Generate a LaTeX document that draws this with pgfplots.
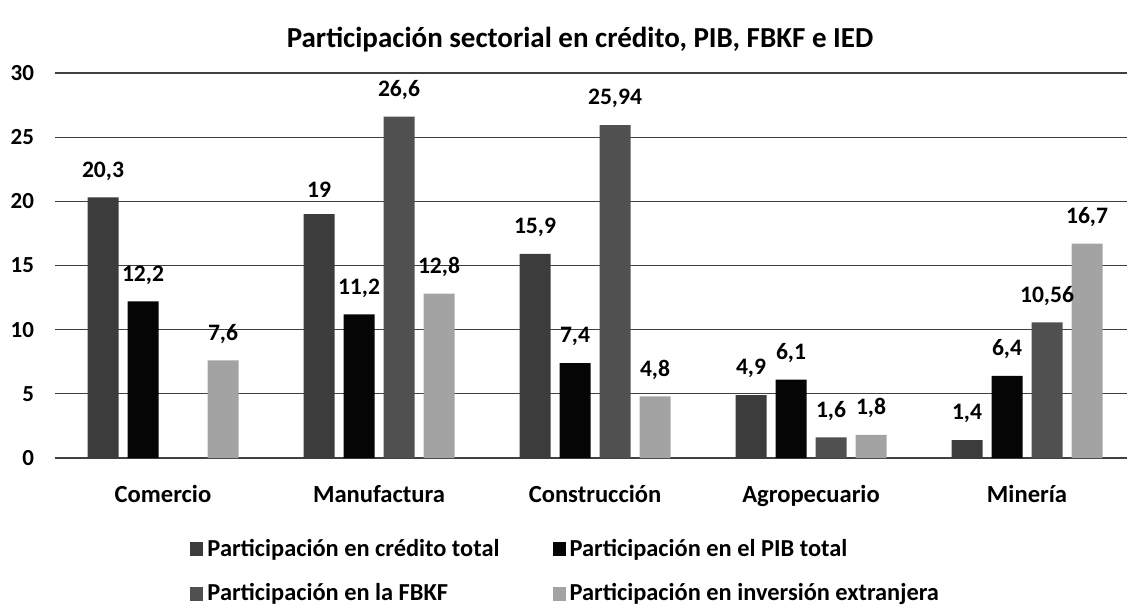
\documentclass[border=0pt]{standalone}
\usepackage{fontspec}
\setmainfont{Carlito}
\usepackage{pgfplots}
\pgfplotsset{compat=1.18}
\definecolor{cCred}{HTML}{3C3C3C}
\definecolor{cPIB}{HTML}{050505}
\definecolor{cFBKF}{HTML}{505050}
\definecolor{cIED}{HTML}{A3A3A3}
\begin{document}
\begin{tikzpicture}
\path[use as bounding box] (0,0) rectangle (563.5pt,303pt);
\node[font=\bfseries\fontsize{14.5}{16}\selectfont] at (290pt,283pt) {Participación sectorial en crédito, PIB, FBKF e IED};
\begin{axis}[
  at={(27.5pt,74pt)}, anchor=south west,
  scale only axis, width=536pt, height=192.5pt,
  ymin=0, ymax=30, ytick={0,5,...,30},
  xmin=-0.5, xmax=4.463,
  xtick={0,1,2,3,4},
  xticklabels={Comercio,Manufactura,Construcción,Agropecuario,Minería},
  axis line style={draw=none},
  major tick length=0pt,
  ymajorgrids, grid style={black!75, line width=0.6pt},
  ybar=4.5pt, bar width=15.5pt,
  /pgf/number format/assume math mode=true,
  tick label style={font=\bfseries\fontsize{11.5}{13}\selectfont},
  xticklabel style={font=\bfseries\fontsize{12.3}{14}\selectfont, yshift=-10pt},
  yticklabel style={xshift=-7pt},
  nodes near coords={\pgfmathprintnumber[use comma,precision=2]{\pgfplotspointmeta}},
  every node near coord/.append style={font=\bfseries\fontsize{11.8}{13}\selectfont, yshift=5pt, /pgf/number format/assume math mode=true},
  legend columns=2,
  legend style={draw=none, fill=none, at={(0.126,-0.2)}, anchor=north west, inner sep=0pt,
    font=\bfseries\fontsize{12.2}{14}\selectfont, row sep=8pt,
    /tikz/every even column/.append style={column sep=24.5pt}},
  legend cell align=left,
  legend image code/.code={\fill[#1,draw=none] (0pt,-3.5pt) rectangle (6.5pt,3.5pt);},
  enlarge x limits=false,
]
\addplot[fill=cCred, draw=none] coordinates {(0,20.3) (1,19) (2,15.9) (3,4.9) (4,1.4)};
\addplot[fill=cPIB, draw=none] coordinates {(0,12.2) (1,11.2) (2,7.4) (3,6.1) (4,6.4)};
\addplot[fill=cFBKF, draw=none] coordinates {(1,26.6) (2,25.94) (3,1.6) (4,10.56)};
\addplot[fill=cIED, draw=none] coordinates {(0,7.6) (1,12.8) (2,4.8) (3,1.8) (4,16.7)};
\legend{Participación en crédito total, Participación en el PIB total, Participación en la FBKF, Participación en inversión extranjera}
\end{axis}
\end{tikzpicture}
\end{document}
